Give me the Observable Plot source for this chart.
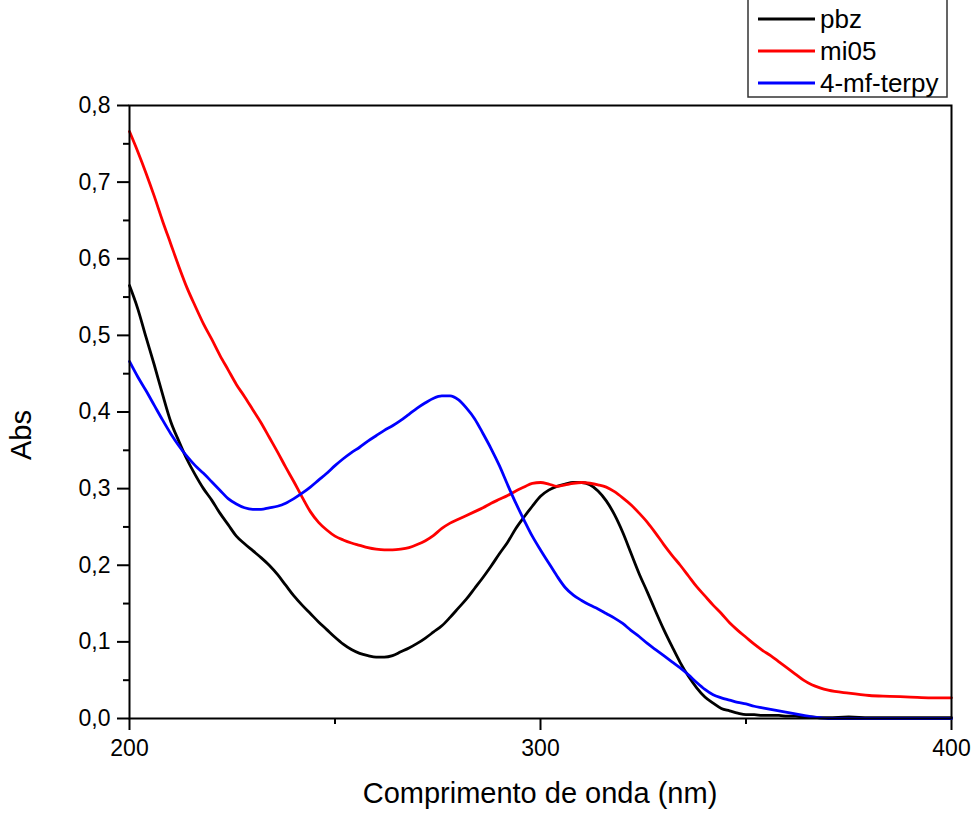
<!DOCTYPE html>
<html>
<head>
<meta charset="utf-8">
<script src="https://cdn.jsdelivr.net/npm/d3@7"></script>
<script src="https://cdn.jsdelivr.net/npm/@observablehq/plot@0.6"></script>
<style>
  html, body { margin: 0; padding: 0; background: #fff; }
  #chart { width: 975px; height: 815px; overflow: hidden; }
</style>
</head>
<body>
<div id="chart"></div>
<script>
// Wavelengths (nm)
const wavelengths = [
  200,202,204,206,208,210,212,214,216,218,220,222,224,226,228,230,232,234,236,238,
  240,242,244,246,248,250,252,254,256,258,260,262,264,266,268,270,272,274,276,278,
  280,282,284,286,288,290,292,294,296,298,300,302,304,306,308,310,312,314,316,318,
  320,322,324,326,328,330,332,334,336,338,340,342,344,346,348,350,352,354,356,358,
  360,362,364,366,368,370,375,380,385,390,395,400
];
const pbz = [
  .565,.535,.498,.462,.424,.388,.362,.338,.318,.300,.285,.268,.253,.238,.228,.219,.210,.200,.188,.174,
  .160,.148,.137,.126,.116,.106,.097,.090,.085,.082,.080,.080,.082,.087,.092,.098,.105,.113,.121,.132,
  .144,.156,.170,.184,.199,.215,.230,.248,.263,.277,.290,.298,.303,.306,.308,.308,.305,.297,.284,.266,
  .243,.216,.189,.165,.140,.116,.094,.073,.055,.040,.028,.020,.013,.010,.007,.005,.005,.004,.004,.004,
  .003,.003,.002,.002,.001,.001,.002,.001,.001,.001,.001,.001
];
const mi05 = [
  .766,.740,.712,.682,.650,.620,.590,.562,.538,.515,.495,.474,.455,.436,.420,.403,.386,.367,.348,.328,
  .309,.289,.270,.256,.246,.238,.233,.229,.226,.223,.221,.220,.220,.221,.223,.227,.232,.239,.248,.255,
  .260,.265,.270,.275,.281,.286,.291,.297,.302,.307,.308,.306,.303,.305,.307,.308,.307,.305,.302,.296,
  .288,.279,.268,.256,.242,.227,.213,.200,.186,.172,.160,.148,.137,.125,.115,.106,.097,.089,.082,.074,
  .066,.058,.050,.044,.040,.037,.033,.030,.029,.028,.027,.027
];
const terpy = [
  .466,.446,.428,.409,.390,.372,.356,.342,.330,.320,.309,.298,.287,.280,.275,.273,.273,.275,.277,.281,
  .287,.294,.302,.311,.320,.330,.339,.347,.354,.362,.369,.376,.382,.389,.397,.405,.412,.418,.421,.421,
  .416,.405,.391,.372,.352,.330,.305,.281,.259,.238,.220,.203,.186,.171,.161,.154,.148,.143,.137,.131,
  .124,.115,.107,.098,.090,.082,.074,.066,.057,.047,.038,.031,.027,.024,.021,.019,.016,.014,.012,.010,
  .008,.006,.004,.002,.001,0,0,0,0,0,0,0
];
const seriesNames = ["pbz", "mi05", "4-mf-terpy"];
const seriesColors = ["#000000", "#ff0000", "#0000ff"];
const seriesValues = [pbz, mi05, terpy];

const xMajor = [200, 300, 400];
const xMinor = [250, 350];
const yMajor = [0, 0.1, 0.2, 0.3, 0.4, 0.5, 0.6, 0.7, 0.8];
const yMinor = [0.05, 0.15, 0.25, 0.35, 0.45, 0.55, 0.65, 0.75];
const xLabel = "Comprimento de onda (nm)";
const yLabel = "Abs";

const rows = [];
seriesNames.forEach((name, i) => {
  wavelengths.forEach((w, j) => rows.push({series: name, x: w, y: seriesValues[i][j]}));
});

const fmt = d => d.toFixed(1).replace(".", ",");
const font = "'Liberation Sans', Arial, sans-serif";

const chart = Plot.plot({
  width: 975,
  height: 815,
  marginLeft: 129,
  marginRight: 24,
  marginTop: 105,
  marginBottom: 97,
  style: {fontFamily: font, fontSize: "23px", color: "#000", background: "#fff", overflow: "visible"},
  x: {domain: [200, 400]},
  y: {domain: [0, 0.8]},
  color: {domain: seriesNames, range: seriesColors},
  marks: [
    Plot.axisX({ticks: xMinor, tickSize: 6, tickFormat: () => "", strokeWidth: 2, label: null}),
    Plot.axisX({ticks: xMajor, tickSize: 12, tickPadding: 9, tickFormat: d => String(d), strokeWidth: 2, fontSize: 23, label: null}),
    Plot.axisY({ticks: yMinor, tickSize: 6, tickFormat: () => "", strokeWidth: 2, label: null}),
    Plot.axisY({ticks: yMajor, tickSize: 12, tickPadding: 7, tickFormat: fmt, strokeWidth: 2, fontSize: 23, label: null}),
    Plot.line(rows, {x: "x", y: "y", z: "series", stroke: "series", strokeWidth: 2.8, curve: "monotone-x"}),
    Plot.frame({stroke: "#000", strokeWidth: 2})
  ]
});
document.getElementById("chart").appendChild(chart);

const svg = d3.select(chart);

// Axis titles
svg.append("text").attr("x", 540).attr("y", 803).attr("text-anchor", "middle")
  .attr("font-family", font).attr("font-size", 29).attr("fill", "#000").text(xLabel);
svg.append("text").attr("transform", "translate(31,435) rotate(-90)").attr("text-anchor", "middle")
  .attr("font-family", font).attr("font-size", 29).attr("fill", "#000").text(yLabel);

// Legend drawn into the SVG's top margin, as in the reference
const lg = svg.append("g").attr("font-family", font).attr("font-size", 26).attr("text-anchor", "start");
lg.append("rect").attr("x", 748).attr("y", -5).attr("width", 199).attr("height", 102)
  .attr("fill", "none").attr("stroke", "#333").attr("stroke-width", 1.5);
seriesNames.forEach((name, i) => {
  const cy = 19 + i * 32;
  lg.append("line").attr("x1", 758).attr("x2", 815).attr("y1", cy).attr("y2", cy)
    .attr("stroke", seriesColors[i]).attr("stroke-width", 2.8);
  lg.append("text").attr("x", 820).attr("y", cy).attr("dy", "0.35em").attr("fill", "#000").text(name);
});
</script>
</body>
</html>
